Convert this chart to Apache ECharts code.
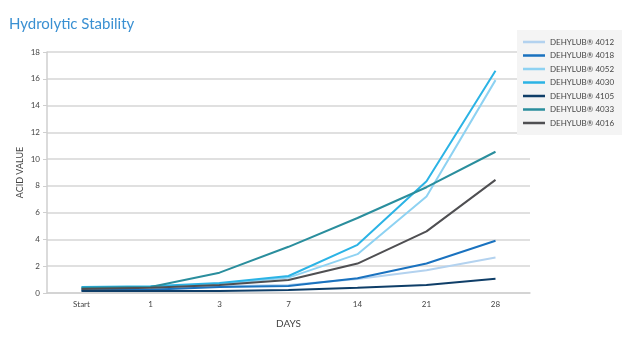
<!DOCTYPE html>
<html>
<head>
<meta charset="utf-8">
<script src="https://cdn.jsdelivr.net/npm/echarts@6/dist/echarts.min.js"></script>
<style>
html, body { margin: 0; padding: 0; background: #fff; }
#main { width: 630px; height: 353px; }
</style>
</head>
<body>
<div id="main"></div>
<script>
// data
var days = ['Start', '1', '3', '7', '14', '21', '28'];
var names = ['DEHYLUB® 4012', 'DEHYLUB® 4018', 'DEHYLUB® 4052', 'DEHYLUB® 4030', 'DEHYLUB® 4105', 'DEHYLUB® 4033', 'DEHYLUB® 4016'];
var v4012 = [0.3, 0.35, 0.5, 0.6, 1.05, 1.7, 2.65];
var v4018 = [0.2, 0.25, 0.45, 0.52, 1.1, 2.2, 3.9];
var v4052 = [0.35, 0.45, 0.65, 1.15, 2.9, 7.2, 15.9];
var v4030 = [0.45, 0.5, 0.75, 1.27, 3.6, 8.35, 16.6];
var v4105 = [0.15, 0.15, 0.15, 0.22, 0.4, 0.6, 1.07];
var v4033 = [0.4, 0.45, 1.52, 3.45, 5.6, 7.9, 10.55];
var v4016 = [0.3, 0.4, 0.6, 0.97, 2.2, 4.6, 8.45];
var values = [v4012, v4018, v4052, v4030, v4105, v4033, v4016];
var colors = ['#b3d2ef', '#1a72bf', '#8ed2f2', '#2bb3e5', '#0f3e68', '#2a8e9d', '#4f4f52'];

var myChart = echarts.init(document.getElementById('main'));

var seriesList = [];
for (var i = 0; i < names.length; i++) {
    seriesList.push({
        name: names[i],
        type: 'line',
        data: values[i],
        symbol: 'none',
        lineStyle: { width: 2 }
    });
}

var option = {
    color: colors,
    animation: false,
    title: {
        text: 'Hydrolytic Stability',
        left: 4,
        top: 12,
        textStyle: {
            color: '#3a90d2',
            fontSize: 15,
            fontWeight: 'normal',
            fontFamily: 'Lato'
        }
    },
    legend: {
        orient: 'vertical',
        left: 517,
        top: 30,
        padding: [8, 8, 8, 6],
        backgroundColor: '#f4f4f4',
        icon: 'rect',
        itemWidth: 22,
        itemHeight: 2.5,
        itemGap: 5.5,
        data: names,
        textStyle: {
            color: '#444',
            fontSize: 8,
            fontFamily: 'Lato'
        }
    },
    grid: {
        left: 47,
        right: 100,
        top: 52,
        bottom: 60
    },
    xAxis: {
        type: 'category',
        data: days,
        name: 'DAYS',
        nameLocation: 'middle',
        nameGap: 26,
        nameTextStyle: { color: '#444', fontSize: 10, fontFamily: 'Lato' },
        axisLine: { lineStyle: { color: '#cfcfcf', width: 1.5 } },
        axisTick: { alignWithLabel: true, length: 4, lineStyle: { color: '#cfcfcf' } },
        axisLabel: { color: '#444', fontSize: 8, fontFamily: 'Lato', margin: 7 }
    },
    yAxis: {
        type: 'value',
        min: 0,
        max: 18,
        interval: 2,
        name: 'ACID VALUE',
        nameLocation: 'middle',
        nameGap: 22,
        nameMoveOverlap: false,
        nameTextStyle: { color: '#444', fontSize: 9, fontFamily: 'Lato' },
        axisLine: { show: true, lineStyle: { color: '#cfcfcf', width: 1.5 } },
        axisTick: { show: true, length: 4, lineStyle: { color: '#cfcfcf' } },
        axisLabel: { color: '#444', fontSize: 8, fontFamily: 'Lato', margin: 7 },
        splitLine: { lineStyle: { color: '#d6d6d6', width: 1.5 } }
    },
    series: seriesList
};

myChart.setOption(option);
</script>
</body>
</html>
